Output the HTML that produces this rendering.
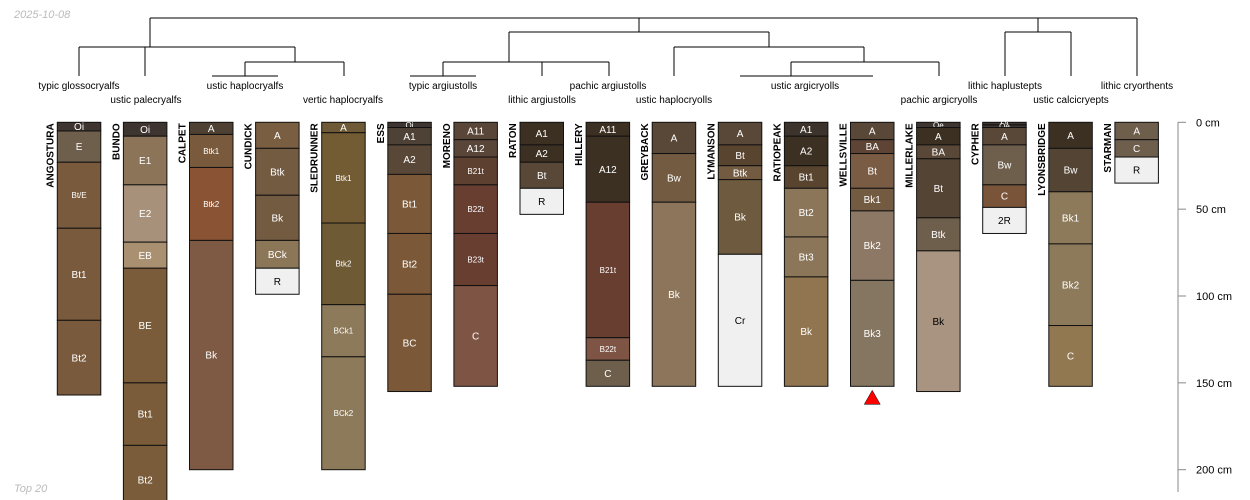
<!DOCTYPE html>
<html><head><meta charset="utf-8">
<style>
html,body{margin:0;padding:0;background:#fff;}
svg{display:block;font-family:"Liberation Sans",Arial,sans-serif;}
</style></head>
<body>
<svg id="chart" width="1250" height="500" viewBox="0 0 1250 500" xmlns="http://www.w3.org/2000/svg">
  <text x="14" y="18" font-size="11" font-style="italic" fill="#bbbbbb">2025-10-08</text>
  <text x="14" y="492" font-size="11" font-style="italic" fill="#bbbbbb">Top 20</text>
  <g id="dendro" stroke="#000" stroke-width="1" fill="none"></g>
  <g id="taxa" font-size="10" fill="#000" text-anchor="middle"></g>
  <g id="profiles"></g>
  <g id="axis"></g>
</svg>
<script>
const profileNames = ["ANGOSTURA","BUNDO","CALPET","CUNDICK","SLEDRUNNER","ESS","MORENO","RATON","HILLERY","GREYBACK","LYMANSON","RATIOPEAK","WELLSVILLE","MILLERLAKE","CYPHER","LYONSBRIDGE","STARMAN"];
const depths = [
  [0,5,23,61,114,157],
  [0,8,36,69,84,150,186,226],
  [0,7,26,68,200],
  [0,15,42,68,84,99],
  [0,6,58,105,135,200],
  [0,3,13,30,64,99,155],
  [0,10,20,36,64,94,152],
  [0,13,23,38,53],
  [0,8,46,124,137,152],
  [0,18,46,152],
  [0,13,25,33,76,152],
  [0,8,25,38,66,89,152],
  [0,10,18,38,51,91,152],
  [0,3,13,21,55,74,155],
  [0,1.5,3,13,36,49,64],
  [0,15,40,70,117,152],
  [0,10,20,35]
];
const horizons = [
  ["Oi","E","Bt/E","Bt1","Bt2"],
  ["Oi","E1","E2","EB","BE","Bt1","Bt2"],
  ["A","Btk1","Btk2","Bk"],
  ["A","Btk","Bk","BCk","R"],
  ["A","Btk1","Btk2","BCk1","BCk2"],
  ["Oi","A1","A2","Bt1","Bt2","BC"],
  ["A11","A12","B21t","B22t","B23t","C"],
  ["A1","A2","Bt","R"],
  ["A11","A12","B21t","B22t","C"],
  ["A","Bw","Bk"],
  ["A","Bt","Btk","Bk","Cr"],
  ["A1","A2","Bt1","Bt2","Bt3","Bk"],
  ["A","BA","Bt","Bk1","Bk2","Bk3"],
  ["Oe","A","BA","Bt","Btk","Bk"],
  ["Oi","Oe","A","Bw","C","2R"],
  ["A","Bw","Bk1","Bk2","C"],
  ["A","C","R"]
];
const colors = [
  ["#3e3530","#6e5e4c","#7a5a3c","#7a5a3c","#7a5a3c"],
  ["#3e3530","#8c7458","#a8917a","#a89070","#7a5c3a","#7a5c3a","#7a5c3a"],
  ["#4e4032","#7a5a3c","#8a5434","#7e5a44"],
  ["#7a5e42","#735b41","#735b41","#8c7658","#f0f0f0"],
  ["#6e5a36","#735b34","#6e5a34","#8c7a5a","#8c7a5a"],
  ["#3e3530","#4e4236","#594838","#7a5838","#7a5838","#7a5838"],
  ["#5a4638","#5a4638","#5e4030","#683e30","#683e30","#7e5444"],
  ["#3c3022","#3c3022","#594838","#f0f0f0"],
  ["#3c3022","#3c3022","#683e30","#7e5444","#6e5e4c"],
  ["#594838","#735b41","#8c755a"],
  ["#594838","#594430","#735b41","#6e5a3e","#f0f0f0"],
  ["#3c342c","#3c3022","#594430","#8c765a","#8c765a","#917450"],
  ["#594838","#5e4434","#7a5c44","#735b41","#8c7864","#847660"],
  ["#3e3530","#3c3022","#594838","#544434","#6e5e4c","#a89480"],
  ["#3e3530","#3e3530","#594838","#6e5e4c","#7a5438","#f0f0f0"],
  ["#3c3022","#544434","#8c7a5a","#8c7a5a","#917850"],
  ["#6e5e4c","#6e5e4c","#f0f0f0"]
];
const taxonLabels = ["typic glossocryalfs","ustic palecryalfs","ustic haplocryalfs","vertic haplocryalfs","typic argiustolls","lithic argiustolls","pachic argiustolls","ustic haplocryolls","ustic argicryolls","pachic argicryolls","lithic haplustepts","ustic calcicryepts","lithic cryorthents"];
const taxonX = [79,146,245,343,443,542,608,674,805,939,1005,1071,1137];
const axisTicks = [0,50,100,150,200];
const flagged = [12];

const NS = "http://www.w3.org/2000/svg";
const X0 = 57.3, STEP = 66.1, W = 43.5, Y0 = 122.3, SC = 1.737;
const yS = d => Y0 + d * SC;
const xL = i => X0 + i * STEP;
function mk(tag, attrs, parent){ const e = document.createElementNS(NS, tag); for (const k in attrs) e.setAttribute(k, attrs[k]); parent.appendChild(e); return e; }
function lum(h){ const r=parseInt(h.substr(1,2),16),g=parseInt(h.substr(3,2),16),b=parseInt(h.substr(5,2),16); return 0.299*r+0.587*g+0.114*b; }

const dendroSegs = [
  [150,18,1137,18],[150,18,150,47],[79,47,295,47],[79,47,79,76],[145,47,145,76],
  [295,47,295,62],[245,62,344,62],[245,62,245,76],[212,76,278,76],[344,62,344,76],
  [639,18,639,32],[509,32,769,32],[509,32,509,62],[443,62,609,62],[443,62,443,76],[410,76,476,76],
  [542,62,542,76],[609,62,609,76],[769,32,769,47],[674,47,864,47],[674,47,674,76],
  [864,47,864,62],[791,62,939,62],[791,62,791,76],[740,76,873,76],[939,62,939,76],
  [1038,18,1038,32],[1005,32,1071,32],[1005,32,1005,76],[1071,32,1071,76],[1137,18,1137,76]
];
const dg = document.getElementById('dendro');
dendroSegs.forEach(s => {
  const l = mk('line', {x1:s[0], y1:s[1], x2:s[2], y2:s[3]}, dg);
  
  
});

const tg = document.getElementById('taxa');
taxonLabels.forEach((t, i) => {
  const e = mk('text', {x: taxonX[i], y: i % 2 === 0 ? 89 : 103}, tg);
  e.textContent = t;
  
  
});

const pg = document.getElementById('profiles');
profileNames.forEach((name, i) => {
  const g = mk('g', {}, pg);
  
  
  const x = xL(i);
  const d = depths[i];
  const nt = mk('text', {x: 0, y: 0, transform: `translate(${x-4},${Y0+1}) rotate(-90)`, 'font-size': 10, 'font-weight': 'bold', 'text-anchor': 'end', fill: '#000'}, g);
  nt.textContent = name;
  
  
  for (let h = 0; h < horizons[i].length; h++) {
    const y1 = yS(d[h]), y2 = yS(d[h+1]);
    const r = mk('rect', {x: x, y: y1, width: W, height: y2 - y1, fill: colors[i][h], stroke: '#111', 'stroke-width': 1}, g);
    
    
    const lab = horizons[i][h];
    const small = lab.length >= 4;
    const th = y2 - y1;
    const fs = small ? 8 : (th < 7 ? 8 : 10);
    const t = mk('text', {x: x + W/2, y: (y1 + y2)/2 + fs*0.36, 'font-size': fs, 'text-anchor': 'middle', fill: lum(colors[i][h]) > 150 ? '#000' : '#fff'}, g);
    t.textContent = lab;
    
    
  }
});
flagged.forEach(i => {
  const cx = xL(i) + W/2, y = yS(depths[i][depths[i].length-1]) + 4;
  const p = mk('polygon', {points: `${cx-8},${y+14} ${cx+8},${y+14} ${cx},${y}`, fill: '#ff0000', stroke: '#000', 'stroke-width': 0.5}, pg);
  
  
});

const ag = document.getElementById('axis');
const al = mk('line', {x1: 1178, y1: Y0, x2: 1178, y2: 492, stroke: '#888', 'stroke-width': 1}, ag);


axisTicks.forEach(v => {
  const y = yS(v);
  const tl = mk('line', {x1: 1178, y1: y, x2: 1186, y2: y, stroke: '#888', 'stroke-width': 1}, ag);
  
  
  const tx = mk('text', {x: 1196, y: y + 4, 'font-size': 11, fill: '#000'}, ag);
  tx.textContent = v + ' cm';
  
  
});
</script>
</body></html>
